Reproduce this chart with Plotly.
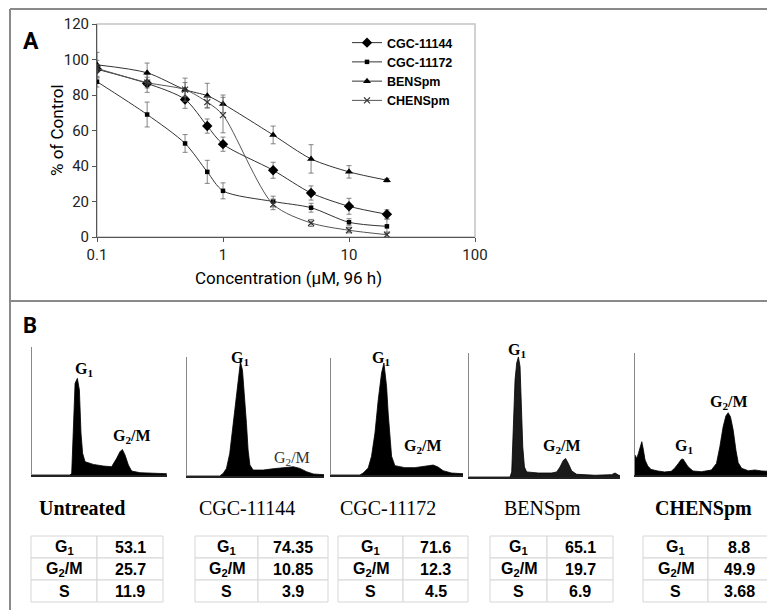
import plotly.graph_objects as go

W, H = 775, 610

# ---------------- Panel A data ----------------
conc = [0.1, 0.25, 0.5, 0.75, 1, 2.5, 5, 10, 20]
cgc11144 = [94.5, 86.5, 77.5, 62.5, 52.3, 37.6, 24.8, 17.3, 12.8]
cgc11144_err = [5, 5, 5, 4, 4, 4.5, 4, 4.5, 2.5]
cgc11172 = [87.5, 69.0, 52.7, 36.7, 26.0, 20.0, 16.5, 8.3, 6.0]
cgc11172_err = [3, 7, 5, 6.5, 4.5, 3, 2.5, 2, 4]
bens = [97.0, 92.5, 83.0, 79.6, 75.0, 57.5, 44.0, 36.7, 32.0]
bens_err = [7, 5.5, 6.5, 7, 5, 5, 8, 3.5, 1]
chens = [95.0, 87.0, 83.0, 76.0, 68.7, 18.4, 7.9, 3.8, 1.3]
chens_err = [2, 3, 4, 3, 10, 3, 2, 1.5, 1.5]
series_names = ["CGC-11144", "CGC-11172", "BENSpm", "CHENSpm"]
y_ticks = [0, 20, 40, 60, 80, 100, 120]
x_ticks = [0.1, 1, 10, 100]

# ---------------- Panel B data (DNA histograms: channel %, count %) ----------------
untreated_ch = [0, 28.1, 29.4, 30.6, 31.9, 33.6, 35.1, 36.3, 37.5, 39.3, 45.4, 52.8, 59.0,
                62.7, 65.2, 66.9, 68.9, 71.4, 73.8, 80.0, 89.9, 99.8]
untreated_ct = [0, 0, 1.3, 40, 71.6, 75.5, 66.4, 32.6, 16.9, 10.4, 8.3, 7.0, 6.5,
                13, 18.2, 20, 15.6, 7.8, 3.1, 1.8, 1.3, 1.0]
cgc11144_ch = [0, 23.9, 26.4, 28.8, 31.2, 33.7, 36.1, 38.1, 39.0, 40.5, 42.2, 43.4, 44.6,
               45.9, 48.3, 55.6, 62.9, 70.2, 77.6, 82.4, 87.3, 92.2, 100]
cgc11144_ct = [0, 0, 2.2, 6.4, 19, 44.1, 72.1, 91.6, 96, 88.8, 66.5, 44.1, 21.8,
               9.2, 5.0, 5.0, 6.1, 7.0, 7.8, 6.4, 3.6, 1.7, 1.1]
cgc11172_ch = [0, 21.9, 24.4, 28.2, 30.7, 33.3, 35.8, 38.3, 40.1, 42.1, 43.3, 44.6, 45.9,
               48.4, 55.9, 63.5, 71.1, 77.4, 81.1, 84.9, 91.2, 100]
cgc11172_ct = [0, 0, 1.7, 6, 16, 35.9, 64.4, 87.2, 95.7, 75.8, 53, 30.2, 16,
               8, 6.3, 6.3, 7.7, 8.5, 6.8, 3.7, 1.7, 1.1]
bens_ch = [0, 27.2, 28.3, 29.4, 30.5, 31.6, 32.7, 33.8, 34.9, 35.6, 36.7, 38.2, 45.9,
           54.8, 58.1, 60.3, 62.5, 64.0, 65.8, 68.0, 71.3, 83.5, 94.5, 96.7, 98.9, 100]
bens_ct = [0, 0, 4.1, 43.2, 78.4, 91.9, 96.8, 89.2, 56.8, 24.3, 8.1, 4.1, 3.2,
           3.2, 4.1, 8.1, 13.5, 14.9, 10.8, 4.9, 2.2, 1.4, 1.9, 3.2, 1.6, 1.1]
chens_ch = [0, 1.3, 2.5, 3.7, 5.0, 6.2, 7.4, 9.4, 11.8, 16.8, 21.7, 26.6, 29.1, 31.6,
            34.0, 35.3, 37.0, 39.0, 42.6, 48.8, 56.2, 59.9, 62.4, 64.8, 66.8, 68.5,
            70.2, 72.2, 74.2, 75.9, 78.4, 83.3, 88.2, 93.2, 100]
chens_ct = [16.4, 13.6, 17.7, 23.2, 27.3, 20.4, 12.3, 7.4, 4.6, 3.3, 2.5, 3.0, 5.5, 9,
            12.8, 13.1, 10.1, 6.8, 3.3, 2.7, 4.1, 9.5, 23.2, 39.5, 48.3, 51,
            47.7, 36.8, 20.4, 10.1, 5.5, 3.5, 4.1, 3.3, 3.0]

samples = ["Untreated", "CGC-11144", "CGC-11172", "BENSpm", "CHENSpm"]
phases = ["G<sub>1</sub>", "G<sub>2</sub>/M", "S"]
g1_pct = [53.1, 74.35, 71.6, 65.1, 8.8]
g2m_pct = [25.7, 10.85, 12.3, 19.7, 49.9]
s_pct = [11.9, 3.9, 4.5, 6.9, 3.68]

# the page body adds an 8 px offset; layout positions below are given in
# screen pixels and converted here
OFF = 8


def px_x(x):
    return (x - OFF) / W


def px_y(y):
    return 1 - (y - OFF) / H


COND = "Roboto, Liberation Sans, Arial, sans-serif"
ARIAL = "Liberation Sans, Arial, sans-serif"
SERIF = "Liberation Serif, Times New Roman, serif"

fig = go.Figure()

# ---------------- Panel A traces ----------------
markers = [
    dict(symbol="diamond", size=8),
    dict(symbol="square", size=4.5),
    dict(symbol="triangle-up", size=7),
    dict(symbol="x-thin", size=6, line=dict(width=1.2, color="#333")),
]
ys = [cgc11144, cgc11172, bens, chens]
errs = [cgc11144_err, cgc11172_err, bens_err, chens_err]
line_cols = ["#333333", "#333333", "#333333", "#555555"]
for name, y, e, m, lc in zip(series_names, ys, errs, markers, line_cols):
    mk = dict(color="black")
    mk.update(m)
    fig.add_trace(go.Scatter(
        x=conc, y=y, name=name, mode="lines+markers",
        line=dict(color=lc, width=1, shape="spline", smoothing=0.8),
        marker=mk,
        error_y=dict(type="data", array=e, visible=True, color="#666", thickness=0.8, width=2.5),
        xaxis="x", yaxis="y",
    ))

# ---------------- Panel B histograms ----------------
hist = [
    (untreated_ch, untreated_ct),
    (cgc11144_ch, cgc11144_ct),
    (cgc11172_ch, cgc11172_ct),
    (bens_ch, bens_ct),
    (chens_ch, chens_ct),
]
hist_dom = [  # (x0, x1, ytop, ybottom) pixels
    (32, 167, 347, 475),
    (187, 324, 357, 476),
    (331, 463, 358, 475),
    (469, 620, 353, 477),
    (635, 771, 353, 475),
]
for i, ((ch, ct), (x0, x1, yt, yb)) in enumerate(zip(hist, hist_dom)):
    ax = i + 2
    fig.add_trace(go.Scatter(
        x=ch, y=ct, mode="lines", fill="tozeroy",
        line=dict(color="black", width=0.8), fillcolor="#000000" if i != 3 else "#1a1a1a",
        showlegend=False, hoverinfo="skip",
        xaxis=f"x{ax}", yaxis=f"y{ax}",
    ))
    fig.update_layout(**{
        f"xaxis{ax}": dict(domain=[px_x(x0), px_x(x1)], range=[0, 100], anchor=f"y{ax}",
                           showline=True, linecolor="#222", linewidth=1.5, showticklabels=False,
                           ticks="", showgrid=False, zeroline=False, fixedrange=True,
                           automargin=False),
        f"yaxis{ax}": dict(domain=[px_y(yb), px_y(yt)], range=[0, 100], anchor=f"x{ax}",
                           showline=True, linecolor="#888", linewidth=1, showticklabels=False,
                           ticks="", showgrid=False, zeroline=False, fixedrange=True,
                           automargin=False),
    })

# ---------------- Layout ----------------
fig.update_layout(
    template="none",
    width=W, height=H, margin=dict(l=0, r=0, t=0, b=0, pad=0, autoexpand=False),
    paper_bgcolor="white", plot_bgcolor="white",
    showlegend=True,
    legend=dict(x=px_x(347), y=px_y(28), xanchor="left", yanchor="top",
                font=dict(family=ARIAL, size=12.5, color="black", weight="bold"),
                bgcolor="rgba(0,0,0,0)", tracegroupgap=0, itemwidth=30, borderwidth=0),
    xaxis=dict(domain=[px_x(97), px_x(475)], type="log", range=[-1, 2],
               tickvals=x_ticks, ticktext=[str(v) for v in x_ticks],
               ticks="outside", ticklen=4, tickcolor="#555", showline=True,
               linecolor="#555", linewidth=1, showgrid=False, zeroline=False,
               tickfont=dict(family=COND, size=15, color="#222"), anchor="y",
               automargin=False),
    yaxis=dict(domain=[px_y(237), px_y(24)], range=[0, 120], tickvals=y_ticks,
               ticks="outside", ticklen=4, tickcolor="#555", showline=True,
               linecolor="#555", linewidth=1, showgrid=False, zeroline=False,
               tickfont=dict(family=COND, size=15, color="#222"), anchor="x",
               automargin=False),
)

shapes = [
    # plot-area border (Excel style)
    dict(type="rect", xref="x domain", yref="y domain", x0=0, x1=1, y0=0, y1=1,
         line=dict(color="#c4c4c4", width=1.5), layer="below"),
    # outer frame
    dict(type="line", xref="paper", yref="paper", x0=px_x(10), x1=1.02, y0=px_y(9), y1=px_y(9),
         line=dict(color="#8a8a8a", width=2)),
    dict(type="line", xref="paper", yref="paper", x0=px_x(10), x1=px_x(10), y0=px_y(9), y1=-0.02,
         line=dict(color="#8a8a8a", width=2)),
    dict(type="line", xref="paper", yref="paper", x0=px_x(10), x1=1.02, y0=px_y(301),
         y1=px_y(301), line=dict(color="#8a8a8a", width=2)),
]

ann = []


def add_text(text, x, y, family, size, color="black", angle=0):
    ann.append(dict(text=text, x=px_x(x), y=px_y(y), xref="paper", yref="paper",
                    xanchor="center", yanchor="middle", showarrow=False, textangle=angle,
                    font=dict(family=family, size=size, color=color)))


# ---------------- Tables (cells as shapes, values as text) ----------------
tab_dom = [  # (x0, divider, x1)
    (31, 97, 163),
    (195, 258, 328),
    (338, 403, 468),
    (490, 547, 613),
    (643, 708, 770),
]
row_top = 536
row_h = 22
for i, (x0, xd, x1) in enumerate(tab_dom):
    vals = [g1_pct[i], g2m_pct[i], s_pct[i]]
    for r, (ph, v) in enumerate(zip(phases, vals)):
        ya = row_top + r * row_h
        yb = ya + row_h
        for cx0, cx1 in ((x0, xd), (xd, x1)):
            shapes.append(dict(type="rect", xref="paper", yref="paper",
                               x0=px_x(cx0), x1=px_x(cx1), y0=px_y(yb), y1=px_y(ya),
                               line=dict(color="#d6d6d6", width=1), fillcolor="white",
                               layer="below"))
        add_text(f"<b>{ph}</b>", (x0 + xd) / 2, ya + row_h / 2, ARIAL, 16)
        add_text(f"<b>{v}</b>", (xd + x1) / 2, ya + row_h / 2, ARIAL, 16)

fig.update_layout(shapes=shapes)

# panel letters
add_text("<b>A</b>", 31, 42, COND, 23)
add_text("<b>B</b>", 30, 325, COND, 22)
# axis titles
add_text("% of Control", 57, 130, COND, 17, angle=-90)
add_text("Concentration (\u03bcM, 96 h)", 288, 278, COND, 17)

# histogram peak labels: (text, x, y, bold)
peak_labels = [
    ("G<sub>1</sub>", 84, 370, True), ("G<sub>2</sub>/M", 132, 436, True),
    ("G<sub>1</sub>", 240, 359, True), ("G<sub>2</sub>/M", 292, 458, False),
    ("G<sub>1</sub>", 381, 359, True), ("G<sub>2</sub>/M", 423, 446, True),
    ("G<sub>1</sub>", 517, 350, True), ("G<sub>2</sub>/M", 562, 446, True),
    ("G<sub>2</sub>/M", 729, 402, True), ("G<sub>1</sub>", 684, 446, True),
]
for t, x, y, b in peak_labels:
    add_text(f"<b>{t}</b>" if b else t, x, y, SERIF, 16, "black" if b else "#333")

# sample names
name_pos = [(82, True), (247, False), (388, False), (542, False), (703, True)]
for s, (x, b) in zip(samples, name_pos):
    add_text(f"<b>{s}</b>" if b else s, x, 508, SERIF, 20)

fig.update_layout(annotations=ann)

fig.write_html("out.html")
